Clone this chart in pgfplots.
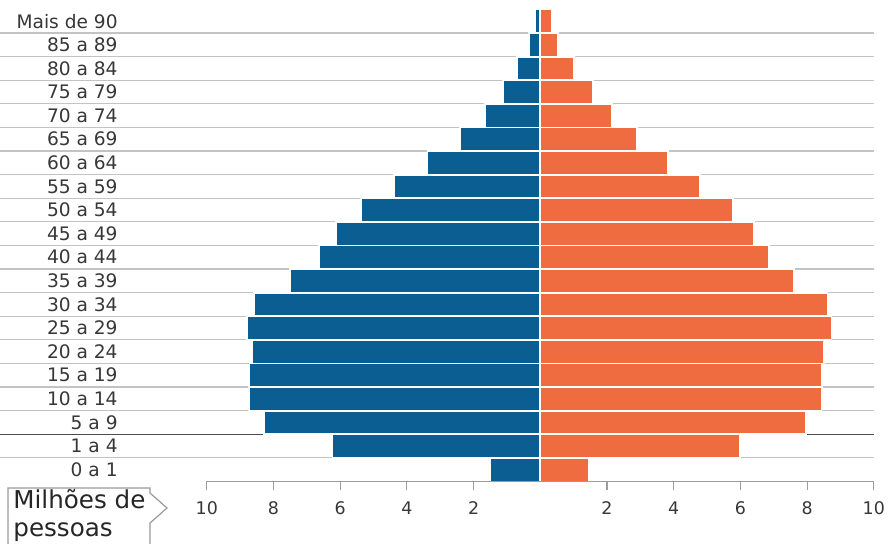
\documentclass[border=0pt]{standalone}
\usepackage{fontspec}
\setmainfont{DejaVu Sans}
\usepackage{pgfplots}
\pgfplotsset{compat=1.18}
\usepackage{pgfplotstable}

\definecolor{homens}{RGB}{10,94,146}
\definecolor{mulheres}{RGB}{238,108,64}
\definecolor{txt}{RGB}{55,55,55}
\definecolor{grade}{RGB}{195,195,195}

% faixa: 0 = "0 a 1" ... 19 = "Mais de 90"; valores em milhoes de pessoas
\pgfplotstableread{
faixa homens mulheres
0  -1.51 1.46
1  -6.23 5.98
2  -8.29 7.96
3  -8.74 8.43
4  -8.72 8.45
5  -8.65 8.50
6  -8.79 8.73
7  -8.59 8.61
8  -7.50 7.61
9  -6.63 6.86
10 -6.13 6.40
11 -5.38 5.78
12 -4.38 4.80
13 -3.38 3.83
14 -2.41 2.90
15 -1.66 2.16
16 -1.13 1.58
17 -0.70 1.00
18 -0.34 0.53
19 -0.16 0.34
}\piramide

\begin{document}
\begin{tikzpicture}
\begin{axis}[
  name=ax,
  scale only axis,
  width=436.9pt, height=236pt,
  xmin=-16.2, xmax=10, ymin=-0.5, ymax=19.5,
  axis line style={draw=none},
  clip=false,
  xbar, bar width=11.8pt, bar shift=0pt,
  xtick={-10,-8,-6,-4,-2,2,4,6,8,10},
  xticklabel={\pgfmathparse{abs(\tick)}\pgfmathprintnumber{\pgfmathresult}},
  xtick pos=bottom, tick align=outside, major tick length=4.5pt,
  xtick style={grade!80!black, line width=0.6pt},
  xticklabel style={font=\fontsize{8.7}{10}\selectfont, text=txt, yshift=-2pt},
  ytick={0,...,19},
  yticklabels={0 a 1,1 a 4,5 a 9,10 a 14,15 a 19,20 a 24,25 a 29,30 a 34,35 a 39,40 a 44,45 a 49,50 a 54,55 a 59,60 a 64,65 a 69,70 a 74,75 a 79,80 a 84,85 a 89,Mais de 90},
  ytick style={draw=none},
  yticklabel style={anchor=east, inner sep=0pt, xshift=63.5pt, font=\fontsize{9.3}{10}\selectfont, text=txt},
  minor ytick={0.5,1.5,...,18.5},
  yminorgrids, minor grid style={grade, line width=0.6pt},
  /pgf/number format/assume math mode=true,
]
\draw[black!70, line width=0.6pt] (axis cs:-16.2,1.5) -- (axis cs:10,1.5);
\addplot[fill=homens, draw=white, line width=0.9pt] table[x=homens, y=faixa] {\piramide};
\addplot[fill=mulheres, draw=white, line width=0.9pt] table[x=mulheres, y=faixa] {\piramide};
\draw[grade!80!black, line width=0.6pt] (axis cs:-10,-0.5) -- (axis cs:10,-0.5);
\end{axis}

% caixa "Milhoes de pessoas"
\draw[gray!80, line width=0.6pt, fill=white]
  ([shift={(4pt,-39.3pt)}]ax.south west) -- ([shift={(4pt,-3.3pt)}]ax.south west)
  -- ([shift={(75pt,-3.3pt)}]ax.south west) -- ([shift={(75pt,-5.8pt)}]ax.south west)
  -- ([shift={(83.5pt,-13.3pt)}]ax.south west) -- ([shift={(75pt,-20.8pt)}]ax.south west)
  -- ([shift={(75pt,-39.3pt)}]ax.south west);
\node[anchor=base west, inner sep=0pt, font=\fontsize{12.3}{14}\selectfont, text=black!85]
  at ([shift={(6.5pt,-13.3pt)}]ax.south west) {Milhões de};
\node[anchor=base west, inner sep=0pt, font=\fontsize{12.3}{14}\selectfont, text=black!85]
  at ([shift={(6.5pt,-27.5pt)}]ax.south west) {pessoas};

\pgfresetboundingbox
\useasboundingbox ([shift={(0pt,-30.8pt)}]ax.south west) rectangle ([shift={(444.5pt,240.7pt)}]ax.south west);
\end{tikzpicture}
\end{document}
